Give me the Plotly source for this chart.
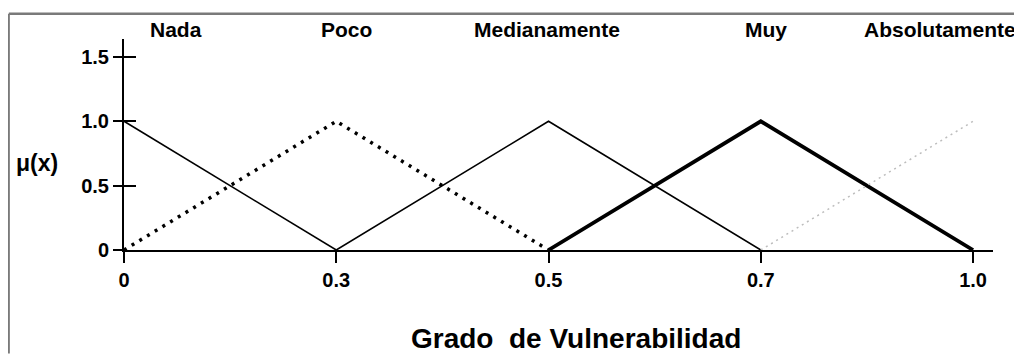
import plotly.graph_objects as go

# Data: membership functions over the vulnerability grade
grado = ["0", "0.3", "0.5", "0.7", "1.0"]
nada = [1.0, 0.0, None, None, None]
poco = [0.0, 1.0, 0.0, None, None]
medianamente = [None, 0.0, 1.0, 0.0, None]
muy = [None, None, 0.0, 1.0, 0.0]
absolutamente = [None, None, None, 0.0, 1.0]

etiquetas = ["Nada", "Poco", "Medianamente", "Muy", "Absolutamente"]
etiqueta_x = [0.245, 1.046, 1.995, 3.025, 3.845]  # label centres in axis units

y_ticks = [0, 0.5, 1.0, 1.5]
y_ticktext = ["0", "0.5", "1.0", "1.5"]

FONT = "Liberation Sans, Arial, sans-serif"

fig = go.Figure()

series = [
    (nada, dict(color="black", width=1.6)),
    (poco, dict(color="black", width=3.5, dash="3px,6px")),
    (medianamente, dict(color="black", width=1.6)),
    (muy, dict(color="black", width=3.8)),
    (absolutamente, dict(color="#bdbdbd", width=1.5, dash="2px,4px")),
]
for vals, line in series:
    fig.add_trace(go.Scatter(x=grado, y=vals, mode="lines", line=line,
                             showlegend=False, hoverinfo="skip", cliponaxis=False))

# Top labels
for txt, xp in zip(etiquetas, etiqueta_x):
    fig.add_annotation(x=xp, y=1.043, xref="x", yref="paper", text=txt, showarrow=False,
                       xanchor="center", yanchor="middle",
                       font=dict(family=FONT, size=21, color="black", weight="bold"))

# y label
fig.add_annotation(x=-0.100, y=0.676, xref="paper", yref="y", text="μ(x)", showarrow=False,
                   xanchor="center", yanchor="middle",
                   font=dict(family=FONT, size=23, color="black", weight="bold"))

# x title
fig.add_annotation(x=0.520, y=-0.42, xref="paper", yref="paper", text="Grado  de Vulnerabilidad",
                   showarrow=False, xanchor="center", yanchor="middle",
                   font=dict(family=FONT, size=28, color="black", weight="bold"))

# Frame (left and top edges of the scanned box)
fig.add_shape(type="line", xref="paper", yref="paper",
              x0=-0.1325, x1=-0.1325, y0=-0.49, y1=1.12,
              line=dict(color="#7a7a7a", width=2))
fig.add_shape(type="line", xref="paper", yref="paper",
              x0=-0.1325, x1=1.033, y0=1.12, y1=1.12,
              line=dict(color="#7a7a7a", width=2.5))

fig.update_layout(
    width=1014, height=346,
    margin=dict(l=116, r=29, t=31, b=104),
    plot_bgcolor="white", paper_bgcolor="white",
    xaxis=dict(type="category", range=[0, 4.094], showgrid=False, zeroline=False,
               showline=True, linecolor="black", linewidth=2,
               ticks="outside", ticklen=11, tickwidth=2, tickcolor="black",
               tickfont=dict(family=FONT, size=20, color="black", weight="bold")),
    yaxis=dict(range=[0, 1.6395], showgrid=False, zeroline=False,
               showline=True, linecolor="black", linewidth=2,
               tickvals=y_ticks, ticktext=y_ticktext,
               ticks="outside", ticklen=9, tickwidth=2, tickcolor="black",
               tickfont=dict(family=FONT, size=20, color="black", weight="bold")),
    yaxis2=dict(range=[0, 1.6395], overlaying="y", side="left", showgrid=False, zeroline=False,
                tickvals=y_ticks, ticks="inside", ticklen=12, tickwidth=2, tickcolor="black",
                showticklabels=False),
)
fig.add_trace(go.Scatter(x=[None], y=[None], yaxis="y2", showlegend=False, hoverinfo="skip"))

fig.write_html("out.html")
